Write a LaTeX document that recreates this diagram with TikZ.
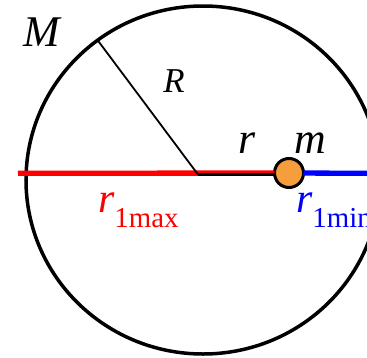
\documentclass[tikz,border=0pt]{standalone}
\usepackage{fontspec}
\setmainfont{Liberation Serif}
\usepackage{xcolor}
\usepackage{tikz}
\usetikzlibrary{shapes.geometric}
\definecolor{ballorange}{RGB}{247,158,60}

\begin{document}
\begin{tikzpicture}[x=1bp, y=-1bp,
    rim/.style={ellipse, draw=black, line width=3.5bp, minimum width=354bp, minimum height=348bp, inner sep=0pt, outer sep=0pt},
    mass/.style={circle, draw=black, fill=ballorange, line width=3bp, minimum size=29bp, inner sep=0pt, outer sep=0pt},
    lbl/.style={inner sep=0pt, font=\fontsize{44}{44}\selectfont\itshape},
    axis/.style={line width=5.3bp}]

\useasboundingbox (0,0) rectangle (367,358);
\clip (0,0) rectangle (367,358);

\node (disk) [rim] at (203,180) {};
\node (ball) [mass] at (289,173) {};
\coordinate (west) at (18,173.3);
\coordinate (east) at (372,173.3);
\coordinate (ctr) at (198,174.5);

\draw [axis, red] (west) -- (ball);
\draw [axis, blue] (ball) -- (east);
\draw [line width=2.5bp] (ctr) -- (ball.west |- ctr);
\draw [line width=1.8bp] (ctr) -- (disk.127.6);

\node (Mlab) [lbl] at (41.5,32) {M};
\node (Rlab) [lbl, font=\fontsize{35}{35}\selectfont\itshape] at (174,81) {R};
\node (rlab) [lbl, anchor=base] at (247,153) {r};
\node (mlab) [lbl, anchor=base] at (310,153) {m};
\node (rmax) [anchor=base west, inner sep=0pt, text=red] at (98,212) {\fontsize{42}{42}\selectfont\itshape r\raisebox{-15bp}{\upshape\fontsize{29}{29}\selectfont 1max}};
\node (rmin) [anchor=base west, inner sep=0pt, text=blue] at (296,212) {\fontsize{42}{42}\selectfont\itshape r\raisebox{-15bp}{\upshape\fontsize{29}{29}\selectfont 1min}};

\end{tikzpicture}
\end{document}
